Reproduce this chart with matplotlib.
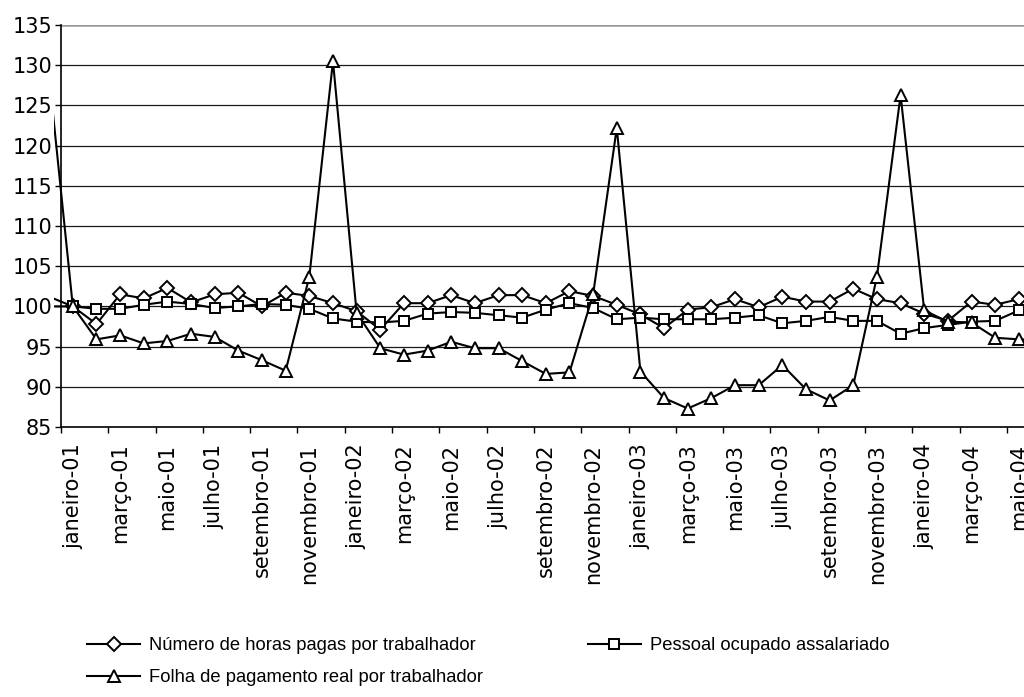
import matplotlib
matplotlib.use("Agg")
import matplotlib.pyplot as plt
from matplotlib.ticker import FixedLocator, FixedFormatter

# monthly index, dezembro-00 .. junho-04 (base janeiro-01 = 100)
meses = ["janeiro", "fevereiro", "março", "abril", "maio", "junho", "julho",
         "agosto", "setembro", "outubro", "novembro", "dezembro"]
periodos = ["dezembro-00"] + [f"{m}-{a:02d}" for a in (1, 2, 3) for m in meses] \
    + [f"{m}-04" for m in meses[:6]]

horas_pagas = [101.2, 100.0, 97.8, 101.5, 101.0, 102.3, 100.5, 101.5, 101.7,
               100.0, 101.7, 101.3, 100.4, 99.4, 97.1, 100.4, 100.4, 101.4,
               100.4, 101.4, 101.4, 100.4, 101.9, 101.3, 100.2, 99.0, 97.3,
               99.6, 99.9, 100.9, 99.9, 101.2, 100.6, 100.6, 102.2, 100.9,
               100.4, 99.1, 98.2, 100.6, 100.2, 100.9, 102.0]
pessoal_ocupado = [100.0, 100.0, 99.7, 99.7, 100.2, 100.6, 100.3, 99.8, 100.0,
                   100.3, 100.2, 99.7, 98.5, 98.1, 98.0, 98.2, 99.1, 99.3,
                   99.2, 98.9, 98.6, 99.6, 100.4, 99.8, 98.4, 98.6, 98.4,
                   98.4, 98.4, 98.6, 98.9, 97.9, 98.2, 98.7, 98.2, 98.2,
                   96.6, 97.3, 97.7, 98.1, 98.2, 99.5, 100.6]
folha_real = [128.6, 100.0, 95.9, 96.4, 95.4, 95.7, 96.6, 96.2, 94.5, 93.3,
              92.0, 103.7, 130.5, 99.2, 94.8, 94.0, 94.5, 95.6, 94.8, 94.8,
              93.2, 91.6, 91.8, 101.5, 122.2, 91.9, 88.6, 87.3, 88.6, 90.2,
              90.2, 92.7, 89.7, 88.3, 90.2, 103.7, 126.3, 99.5, 98.1, 98.0,
              96.1, 95.9, 95.8]

legendas = ["Número de horas pagas por trabalhador",
            "Pessoal ocupado assalariado",
            "Folha de pagamento real por trabalhador"]
y_ticks = list(range(85, 136, 5))

W, H = 1024, 697
fig = plt.figure(figsize=(W / 100, H / 100), dpi=100)
# plot area runs a little past the right edge of the image
ax = fig.add_axes([54 / W, 270 / H, 1000.3 / W, 402 / H])

x = list(range(-1, len(periodos) - 1))  # janeiro-01 sits at 0
n_last = len(periodos) - 2

estilos = [("D", 7.6), ("s", 7.8), ("^", 8.6)]
series = [horas_pagas, pessoal_ocupado, folha_real]
handles = []
for serie, (mk, ms), nome in zip(series, estilos, legendas):
    # first point (dezembro-00) only shows as the line coming in from the left
    h, = ax.plot(x, serie, color="black", lw=1.5, marker=mk, ms=ms,
                 markevery=slice(1, None), mfc="white", mec="black", mew=1.4,
                 label=nome, zorder=3)
    handles.append(h)

ax.set_xlim(-0.5 - 7 / 23.65, n_last + 0.5)
ax.set_ylim(85, 135)

# horizontal grid from the category axis to the right edge
ax.hlines(y_ticks[1:-1], -0.5, n_last + 0.5, color="0.1", lw=0.9, zorder=1)
ax.hlines(135, -0.5, n_last + 0.5, color="#9a9a9a", lw=1.8, zorder=1)

for s in ("top", "right"):
    ax.spines[s].set_visible(False)
ax.spines["left"].set_position(("data", -0.5))
ax.spines["left"].set_linewidth(1.2)
ax.spines["bottom"].set_bounds(-0.5, n_last + 0.5)
ax.spines["bottom"].set_linewidth(1.2)

ax.set_yticks(y_ticks)
ax.tick_params(axis="y", length=4.5, width=1, pad=2, labelsize=15)

rotulos = list(range(0, n_last + 1, 2))
ax.xaxis.set_major_locator(FixedLocator(rotulos))
ax.xaxis.set_major_formatter(FixedFormatter([periodos[i + 1] for i in rotulos]))
ax.xaxis.set_minor_locator(FixedLocator([i - 0.5 for i in range(0, n_last + 2, 2)]))
ax.tick_params(axis="x", which="major", length=0, pad=12, labelsize=15,
               labelrotation=90)
ax.tick_params(axis="x", which="minor", length=4, width=1)

for lab in ax.get_xticklabels() + ax.get_yticklabels():
    lab.set_family("DejaVu Sans")

fig.legend(handles=[handles[0], handles[2], handles[1]],
           labels=[legendas[0], legendas[2], legendas[1]],
           ncol=2, loc="upper left", bbox_to_anchor=(87 / W, 1 - 637 / H),
           frameon=False, borderpad=0, borderaxespad=0,
           handlelength=2.9, handletextpad=0.5, columnspacing=5.7,
           labelspacing=0.82, prop={"family": "Liberation Sans", "size": 13.2})

fig.savefig("out.png", dpi=100)
